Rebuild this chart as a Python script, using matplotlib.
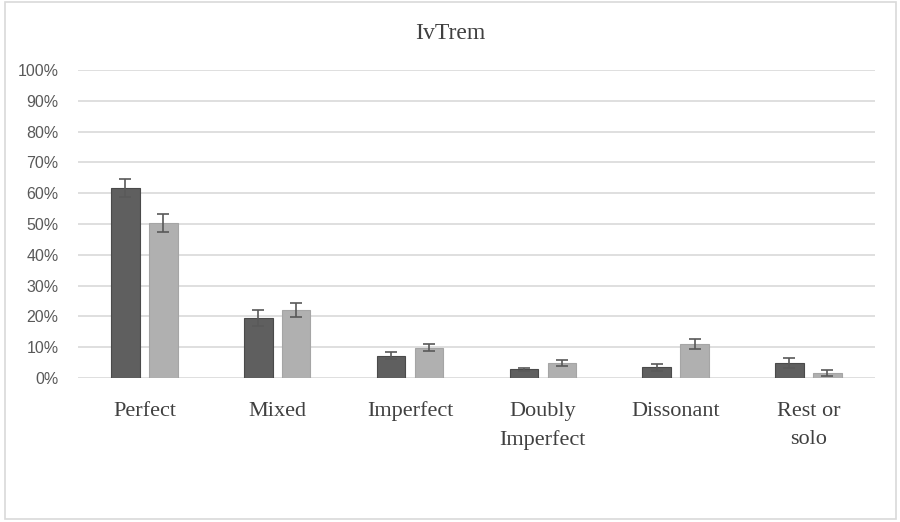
import matplotlib.pyplot as plt
import numpy as np
from matplotlib.patches import Rectangle
from matplotlib.ticker import PercentFormatter

categories = ['Perfect', 'Mixed', 'Imperfect', 'Doubly\nImperfect', 'Dissonant', 'Rest or\nsolo']
series_a = [0.617, 0.195, 0.072, 0.029, 0.035, 0.048]
series_b = [0.503, 0.220, 0.098, 0.048, 0.111, 0.016]
err_a = [0.030, 0.025, 0.011, 0.005, 0.011, 0.017]
err_b = [0.028, 0.023, 0.012, 0.009, 0.017, 0.011]

fig = plt.figure(figsize=(9, 5.22), dpi=100)
fig.patches.append(Rectangle((0.005, 0.006), 0.99, 0.99, transform=fig.transFigure,
                             fill=False, edgecolor='#d9d9d9', linewidth=1.2))
ax = fig.add_axes([0.0867, 0.2759, 0.8853, 0.5901])

x = np.arange(len(categories))
w = 0.215
off = 0.143
err_kw = dict(ecolor='#595959', elinewidth=1.2, capsize=4, capthick=1.2)
ax.bar(x - off, series_a, w, color='#5f5f5f', edgecolor='#4a4a4a', linewidth=0.8,
       yerr=err_a, error_kw=err_kw, zorder=3)
ax.bar(x + off, series_b, w, color='#b0b0b0', edgecolor='#a5a5a5', linewidth=0.8,
       yerr=err_b, error_kw=err_kw, zorder=3)

ax.set_xlim(-0.5, len(categories) - 0.5)
ax.set_ylim(0, 1)
ax.set_yticks(np.arange(0, 1.01, 0.1))
ax.yaxis.set_major_formatter(PercentFormatter(1.0, decimals=0))
ax.grid(axis='y', color='#d9d9d9', linewidth=1.2, zorder=0)
for s in ax.spines.values():
    s.set_visible(False)
ax.tick_params(axis='both', length=0)
ax.tick_params(axis='y', labelsize=11.5, labelcolor='#595959', pad=14)
ax.set_xticks(x)
ax.set_xticklabels(categories, fontfamily='Liberation Serif', fontsize=16,
                   color='#404040', linespacing=1.65)
ax.tick_params(axis='x', pad=17)
for lab in ax.get_yticklabels():
    lab.set_fontfamily('Liberation Sans')

fig.text(0.5, 0.936, 'IvTrem', ha='center', va='center', fontfamily='Liberation Serif',
         fontsize=17, color='#404040')

fig.savefig('out.png', dpi=100)
